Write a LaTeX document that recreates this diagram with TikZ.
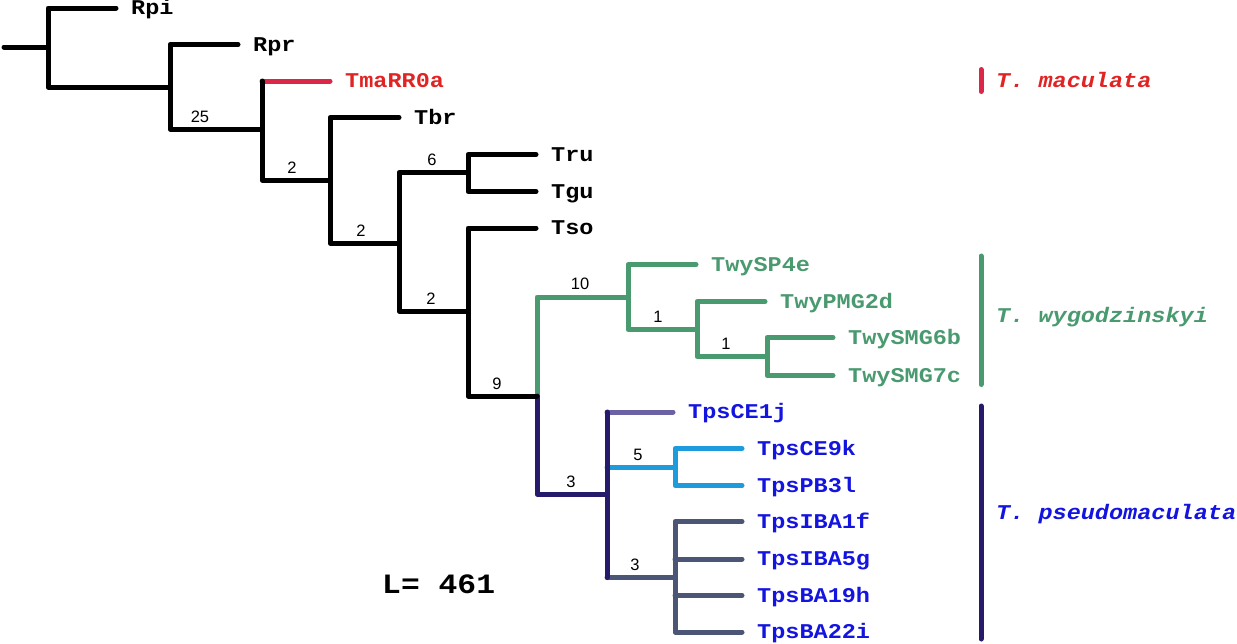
\documentclass[tikz,border=0pt]{standalone}
\usepackage{fontspec}
\setmainfont{Liberation Mono}
\newfontfamily\tipfont[FakeStretch=1.12]{Liberation Mono}
\newfontfamily\numfont{Liberation Sans}
\definecolor{brred}{HTML}{DC2848}
\definecolor{txtred}{HTML}{E02424}
\definecolor{grn}{HTML}{4A9A70}
\definecolor{navy}{HTML}{261A6B}
\definecolor{txtblue}{HTML}{1414E0}
\definecolor{purp}{HTML}{6B62A3}
\definecolor{lblue}{HTML}{1E9BDC}
\definecolor{slate}{HTML}{4B5677}
\begin{document}
\begin{tikzpicture}[x=1pt,y=-1pt,
  br/.style={line width=5pt,line cap=round,line join=round},
  tiplab/.style={anchor=base west,inner sep=0pt,font=\tipfont\fontsize{21}{24}\selectfont\bfseries},
  num/.style={inner sep=0pt,font=\numfont\fontsize{16.5}{18}\selectfont},
  sp/.style={anchor=base west,inner sep=0pt,font=\tipfont\fontsize{21}{24}\selectfont\bfseries\itshape}]
\useasboundingbox (0,0) rectangle (1237,643);
% internal nodes
\coordinate (r0) at (4,47);
\coordinate (A) at (48,47);
\coordinate (B) at (170,87);
\coordinate (C) at (262,129);
\coordinate (D) at (330,180);
\coordinate (E) at (399,243);
\coordinate (F) at (468,172.5);
\coordinate (G) at (468,311);
\coordinate (H) at (537,396);
\coordinate (I) at (628,297);
\coordinate (J) at (697,329.5);
\coordinate (K) at (767,356.5);
\coordinate (L) at (607,494);
\coordinate (M) at (675,467.5);
\coordinate (N) at (675,577.5);
% tips
\coordinate (Rpi) at (116,8);
\coordinate (Rpr) at (238,44.5);
\coordinate (Tma) at (330,81);
\coordinate (Tbr) at (399,117.5);
\coordinate (Tru) at (536,154.5);
\coordinate (Tgu) at (536,191.5);
\coordinate (Tso) at (536,228);
\coordinate (SP4e) at (696,264.5);
\coordinate (PMG2d) at (765,301.5);
\coordinate (SMG6b) at (833,337.5);
\coordinate (SMG7c) at (833,375.5);
\coordinate (CE1j) at (673,412);
\coordinate (CE9k) at (742,448.5);
\coordinate (PB3l) at (742,485.5);
\coordinate (IBA1f) at (742,521.5);
\coordinate (IBA5g) at (742,559);
\coordinate (BA19h) at (742,595.5);
\coordinate (BA22i) at (742,632);
% branches
\draw[br] (r0) -- (A);
\draw[br] (Rpi) -| (A) |- (B);
\draw[br] (Rpr) -| (B) |- (C);
\draw[br,brred] (C |- Tma) -- (Tma);
\draw[br] (C |- Tma) -- (C) |- (D);
\draw[br] (Tbr) -| (D) |- (E);
\draw[br] (F) -| (E) |- (G);
\draw[br] (Tru) -| (F) |- (Tgu);
\draw[br,grn] (I) -| (H);
\draw[br,navy] (H) |- (L);
\draw[br] (Tso) -| (G) |- (H);
\draw[br,grn] (SP4e) -| (I) |- (J);
\draw[br,grn] (PMG2d) -| (J) |- (K);
\draw[br,grn] (SMG6b) -| (K) |- (SMG7c);
\draw[br,purp] (L |- CE1j) -- (CE1j);
\draw[br,lblue] (L |- M) -- (M);
\draw[br,slate] (L |- N) -- (N);
\draw[br,navy] (L |- CE1j) -- (L |- N);
\draw[br,lblue] (CE9k) -| (M) |- (PB3l);
\draw[br,slate] (IBA1f) -| (N) |- (BA22i);
\draw[br,slate] (N |- IBA5g) -- (IBA5g);
\draw[br,slate] (N |- BA19h) -- (BA19h);
% tip labels
\node[tiplab] (lRpi) at ([xshift=15pt,yshift=-6.9pt]Rpi) {Rpi};
\node[tiplab] (lRpr) at ([xshift=15pt,yshift=-6.9pt]Rpr) {Rpr};
\node[tiplab,text=txtred] (lTma) at ([xshift=15pt,yshift=-6.9pt]Tma) {TmaRR0a};
\node[tiplab] (lTbr) at ([xshift=15pt,yshift=-6.9pt]Tbr) {Tbr};
\node[tiplab] (lTru) at ([xshift=15pt,yshift=-6.9pt]Tru) {Tru};
\node[tiplab] (lTgu) at ([xshift=15pt,yshift=-6.9pt]Tgu) {Tgu};
\node[tiplab] (lTso) at ([xshift=15pt,yshift=-6.9pt]Tso) {Tso};
\node[tiplab,text=grn] (lSP4e) at ([xshift=15pt,yshift=-6.9pt]SP4e) {TwySP4e};
\node[tiplab,text=grn] (lPMG2d) at ([xshift=15pt,yshift=-6.9pt]PMG2d) {TwyPMG2d};
\node[tiplab,text=grn] (lSMG6b) at ([xshift=15pt,yshift=-6.9pt]SMG6b) {TwySMG6b};
\node[tiplab,text=grn] (lSMG7c) at ([xshift=15pt,yshift=-6.9pt]SMG7c) {TwySMG7c};
\node[tiplab,text=txtblue] (lCE1j) at ([xshift=15pt,yshift=-6.9pt]CE1j) {TpsCE1j};
\node[tiplab,text=txtblue] (lCE9k) at ([xshift=15pt,yshift=-6.9pt]CE9k) {TpsCE9k};
\node[tiplab,text=txtblue] (lPB3l) at ([xshift=15pt,yshift=-6.9pt]PB3l) {TpsPB3l};
\node[tiplab,text=txtblue] (lIBA1f) at ([xshift=15pt,yshift=-6.9pt]IBA1f) {TpsIBA1f};
\node[tiplab,text=txtblue] (lIBA5g) at ([xshift=15pt,yshift=-6.9pt]IBA5g) {TpsIBA5g};
\node[tiplab,text=txtblue] (lBA19h) at ([xshift=15pt,yshift=-6.9pt]BA19h) {TpsBA19h};
\node[tiplab,text=txtblue] (lBA22i) at ([xshift=15pt,yshift=-6.9pt]BA22i) {TpsBA22i};
% branch support numbers
\node[num] (n25) at (200,116.5) {25};
\node[num] (n2a) at (292,167.5) {2};
\node[num] (n2b) at (361,230.5) {2};
\node[num] (n6) at (432,160) {6};
\node[num] (n2c) at (431,298.5) {2};
\node[num] (n9) at (497,383.5) {9};
\node[num] (n10) at (580,284) {10};
\node[num] (n1a) at (658,317) {1};
\node[num] (n1b) at (726,344) {1};
\node[num] (n3a) at (571,481.5) {3};
\node[num] (n5) at (638,455) {5};
\node[num] (n3b) at (635,565) {3};
% species bars
\coordinate (rb1) at (981,69.5);
\coordinate (rb2) at (981,91.5);
\coordinate (gb1) at (981,256);
\coordinate (gb2) at (981,384.5);
\coordinate (nb1) at (981,406);
\coordinate (nb2) at (981,639);
\draw[br,brred] (rb1) -- (rb2);
\draw[br,grn] (gb1) -- (gb2);
\draw[br,navy] (nb1) -- (nb2);
\node[sp,text=txtred] (smac) at (996,87) {T. maculata};
\node[sp,text=grn] (swyg) at (996,322.5) {T. wygodzinskyi};
\node[sp,text=txtblue] (spse) at (996,519.5) {T. pseudomaculata};
% tree length
\node[inner sep=0pt,anchor=base west,font=\tipfont\fontsize{28}{32}\selectfont\bfseries] (len) at (382,593) {L= 461};
\end{tikzpicture}
\end{document}
